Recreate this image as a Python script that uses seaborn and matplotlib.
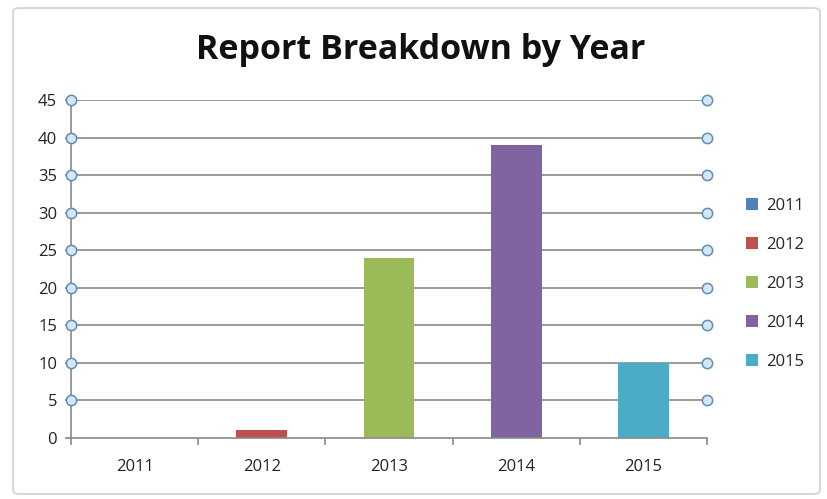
import matplotlib
matplotlib.use("Agg")
import matplotlib.pyplot as plt
import seaborn as sns
import pandas as pd
import numpy as np
from matplotlib.patches import FancyBboxPatch, Patch

years = ["2011", "2012", "2013", "2014", "2015"]
counts = [0, 1, 24, 39, 10]
colors = ["#4F81BD", "#C0504D", "#9BBB59", "#8064A2", "#4BACC6"]
yticks = [0, 5, 10, 15, 20, 25, 30, 35, 40, 45]
title = "Report Breakdown by Year"

sns.set_theme(style="white")
plt.rcParams['font.family'] = ['Open Sans', 'DejaVu Sans']

df = pd.DataFrame({"Year": years, "Count": counts})

fig = plt.figure(figsize=(8.28, 4.99), dpi=100)
ax = fig.add_axes([71/828, 1-438/499, (707-71)/828, (438-100)/499])

grid_c = "#898989"
for y in yticks[1:]:
    ax.axhline(y, color=grid_c, lw=1.2, zorder=0)

sns.barplot(data=df, x="Year", y="Count", hue="Year", palette=colors,
            dodge=False, width=0.4, legend=False, ax=ax, zorder=2,
            saturation=1, linewidth=0, edgecolor="none")

ax.set_xlim(-0.5, 4.5)
ax.set_ylim(0, 45)
ax.set_yticks(yticks)
ax.set_yticklabels([str(v) for v in yticks], fontsize=12, color="#222222")
ax.set_xticks(range(len(years)))
ax.set_xticklabels(years, fontsize=12, color="#222222")
ax.set_xlabel("")
ax.set_ylabel("")
ax.set_xticks(np.arange(-0.5, 5, 1), minor=True)
ax.tick_params(axis="x", which="major", length=0, pad=15)
ax.tick_params(axis="x", which="minor", length=5, color=grid_c, width=1.2, bottom=True)
ax.tick_params(axis="y", length=4, color=grid_c, width=1.2, left=True, pad=6)

for side in ["top", "right"]:
    ax.spines[side].set_visible(False)
for side in ["left", "bottom"]:
    ax.spines[side].set_color(grid_c)
    ax.spines[side].set_linewidth(1.2)

# circle handles at gridline ends
ys = yticks[1:]
for xv in (-0.5, 4.5):
    ax.scatter([xv]*len(ys), ys, s=55, facecolor="#D6E6F2", edgecolor="#5E8DB8",
               linewidth=1.1, zorder=5, clip_on=False)

fig.text(0.508, 1-50/499, title, ha="center", va="center",
         fontsize=24.5, fontweight="bold", color="#111111")

handles = [Patch(facecolor=c, edgecolor="none") for c in colors]
leg = fig.legend(handles, years, loc="center left", bbox_to_anchor=(0.883, 1-284/499),
                 frameon=False, fontsize=12, handlelength=0.7, handleheight=0.7,
                 labelspacing=1.38, handletextpad=0.5)

border = FancyBboxPatch((13/828, 5/499), (820-13)/828, (491-5)/499,
                        boxstyle="round,pad=0,rounding_size=0.008",
                        transform=fig.transFigure, fill=False,
                        edgecolor="#D0D0D0", lw=1.2)
fig.patches.append(border)

fig.savefig("out.png", dpi=100)
